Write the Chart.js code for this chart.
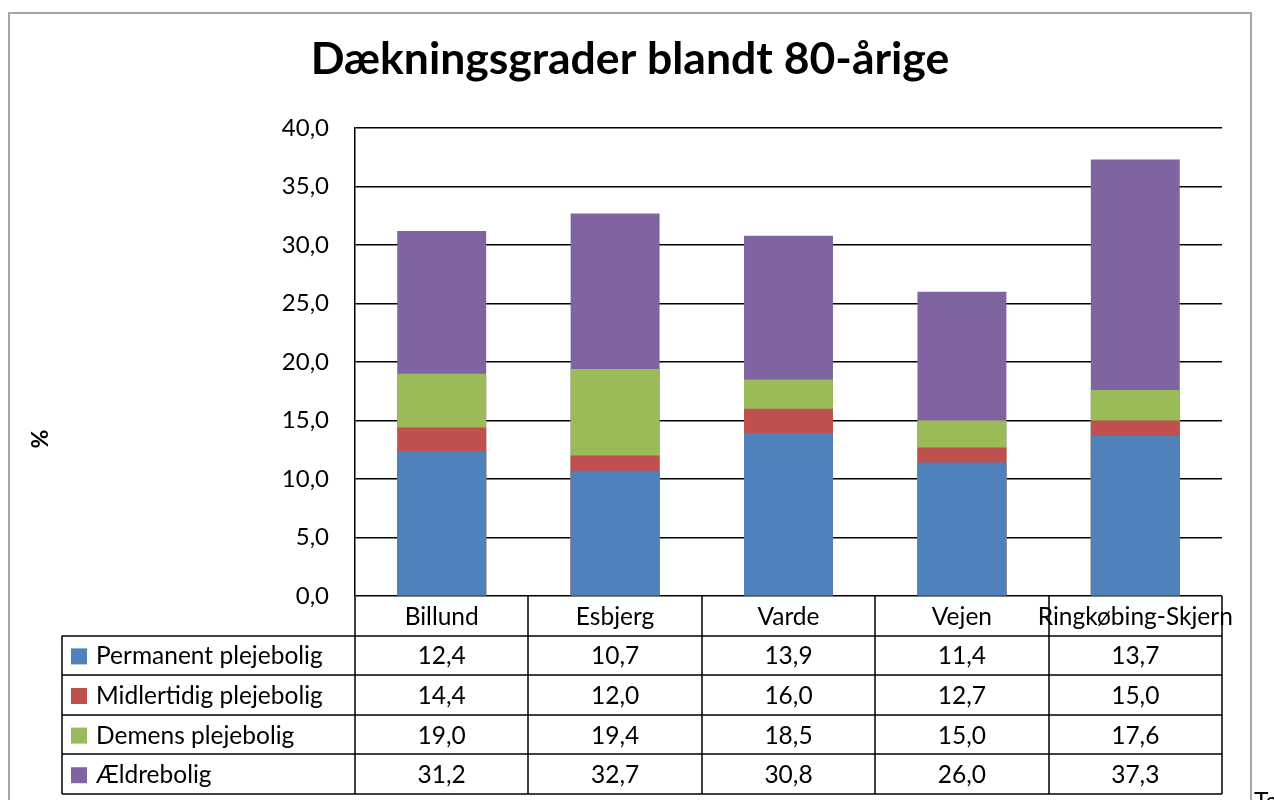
<!DOCTYPE html>
<html>
<head>
<meta charset="utf-8">
<script src="https://cdn.jsdelivr.net/npm/chart.js@4.4.1/dist/chart.umd.min.js"></script>
<style>
  html, body { margin: 0; padding: 0; background: #fff; }
  #wrap { width: 1274px; height: 800px; position: relative; }
</style>
</head>
<body>
<div id="wrap"><canvas id="chart" width="1274" height="800"></canvas></div>
<script>
const TITLE = "Dækningsgrader blandt 80-årige";
const CATEGORIES = ["Billund", "Esbjerg", "Varde", "Vejen", "Ringkøbing-Skjern"];
const SERIES_NAMES = ["Permanent plejebolig", "Midlertidig plejebolig", "Demens plejebolig", "Ældrebolig"];
const SERIES_COLORS = ["#4F81BD", "#C0504D", "#9BBB59", "#8064A2"];
// values as shown in the data table (bars overlap, each drawn from 0)
const permanent = [12.4, 10.7, 13.9, 11.4, 13.7];
const midlertidig = [14.4, 12.0, 16.0, 12.7, 15.0];
const demens = [19.0, 19.4, 18.5, 15.0, 17.6];
const aeldre = [31.2, 32.7, 30.8, 26.0, 37.3];
const SERIES = [permanent, midlertidig, demens, aeldre];

const FONT = "Lato, 'Open Sans', sans-serif";
const fmt = (v) => v.toFixed(1).replace(".", ",");

/* === frame, title, axis title and data table === */
const tablePlugin = {
  id: "tablePlugin",
  beforeDraw(chart) {
    const ctx = chart.ctx;
    ctx.save();
    ctx.fillStyle = "#fff";
    ctx.fillRect(0, 0, chart.width, chart.height);
    ctx.strokeStyle = "#a6a6a6";
    ctx.lineWidth = 2;
    ctx.strokeRect(9, 13, 1242, 820);
    ctx.restore();
  },
  afterDraw(chart) {
    const ctx = chart.ctx;
    const x = chart.scales.x;
    const area = chart.chartArea;
    const colW = (area.right - area.left) / CATEGORIES.length;
    const rowH = 39.6;
    const top = area.bottom;
    const tableLeft = 62;
    ctx.save();

    // title
    ctx.fillStyle = "#000";
    ctx.font = "bold 44.5px " + FONT;
    ctx.textAlign = "center";
    ctx.textBaseline = "middle";
    ctx.fillText(TITLE, 630, 60);

    // "%" rotated
    ctx.font = "bold 23px " + FONT;
    ctx.translate(41, 439);
    ctx.rotate(-Math.PI / 2);
    ctx.fillText("%", 0, 0);
    ctx.setTransform(1, 0, 0, 1, 0, 0);

    ctx.strokeStyle = "#000";
    ctx.lineWidth = 1.5;
    ctx.beginPath();
    // vertical column lines
    for (let i = 0; i <= CATEGORIES.length; i++) {
      const px = Math.round(area.left + i * colW);
      ctx.moveTo(px, top);
      ctx.lineTo(px, top + rowH * (SERIES.length + 1));
    }
    ctx.moveTo(tableLeft, top + rowH);
    ctx.lineTo(tableLeft, top + rowH * (SERIES.length + 1));
    // horizontal row lines
    for (let r = 1; r <= SERIES.length + 1; r++) {
      const py = Math.round(top + r * rowH);
      ctx.moveTo(tableLeft, py);
      ctx.lineTo(area.right, py);
    }
    ctx.stroke();

    ctx.font = "24.5px " + FONT;
    ctx.textAlign = "center";
    ctx.textBaseline = "middle";
    CATEGORIES.forEach((c, i) => {
      ctx.fillText(c, x.getPixelForValue(i), top + rowH / 2 + 1);
    });
    SERIES.forEach((vals, r) => {
      const cy = top + rowH * (r + 1.5) + 1;
      ctx.fillStyle = SERIES_COLORS[r];
      ctx.fillRect(71, cy - 8, 16, 16);
      ctx.fillStyle = "#000";
      ctx.textAlign = "left";
      ctx.fillText(SERIES_NAMES[r], 96, cy);
      ctx.textAlign = "center";
      vals.forEach((v, i) => ctx.fillText(fmt(v), x.getPixelForValue(i), cy));
    });

    ctx.textAlign = "left";
    ctx.fillText("Ta", 1254, 802);
    ctx.restore();
  }
};

new Chart(document.getElementById("chart"), {
  type: "bar",
  data: {
    labels: CATEGORIES,
    datasets: SERIES.map((vals, i) => ({
      label: SERIES_NAMES[i],
      data: vals,
      backgroundColor: SERIES_COLORS[i],
      borderWidth: 0,
      barPercentage: 0.513,
      categoryPercentage: 1.0,
    })),
  },
  options: {
    responsive: false,
    animation: false,
    layout: { padding: { left: 9, right: 52, top: 128, bottom: 204 } },
    plugins: {
      legend: { display: false },
      tooltip: { enabled: false },
      title: { display: false },
    },
    scales: {
      x: {
        stacked: true,
        display: false,
      },
      y: {
        stacked: false,
        min: 0,
        max: 40,
        afterFit: (s) => { s.width = 346; },
        ticks: {
          stepSize: 5,
          color: "#000",
          padding: 26,
          font: { family: FONT, size: 24 },
          callback: (v) => fmt(v),
        },
        grid: { color: "#000", lineWidth: 1.5, drawTicks: false },
        border: { color: "#000", width: 1.5 },
      },
    },
  },
  plugins: [tablePlugin],
});
</script>
</body>
</html>
